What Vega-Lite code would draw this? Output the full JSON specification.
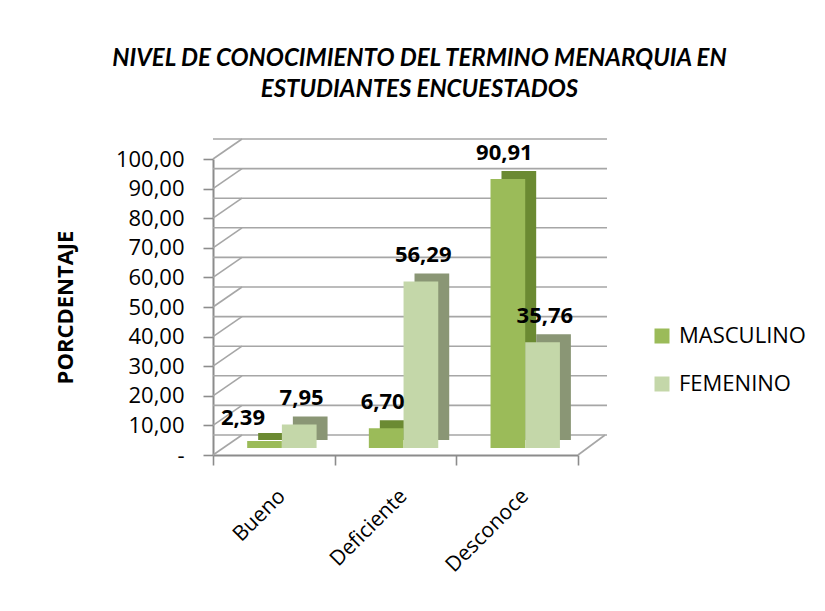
{
  "$schema": "https://vega.github.io/schema/vega-lite/v6.json",
  "autosize": "none",
  "width": 365,
  "height": 296,
  "padding": {"left": 213, "top": 159, "right": 247, "bottom": 156},
  "background": "white",
  "config": {
    "view": {"stroke": null},
    "locale": {"number": {"decimal": ",", "thousands": ".", "grouping": [3], "currency": ["", ""]}},
    "font": "Open Sans",
    "axisY": {"labelOverlap": false}
  },
  "title": {
    "text": ["NIVEL DE CONOCIMIENTO DEL TERMINO MENARQUIA EN", "ESTUDIANTES ENCUESTADOS"],
    "font": "Lato",
    "fontSize": 24,
    "fontWeight": "bold",
    "fontStyle": "italic",
    "color": "#000000",
    "anchor": "middle",
    "frame": "group",
    "dx": 24,
    "offset": 36,
    "lineHeight": 31
  },
  "resolve": {"scale": {"xOffset": "independent"}},
  "datasets": {
    "datos": [
      {"categoria": "Bueno", "sexo": "MASCULINO", "valor": 2.39},
      {"categoria": "Bueno", "sexo": "FEMENINO", "valor": 7.95},
      {"categoria": "Deficiente", "sexo": "MASCULINO", "valor": 6.70},
      {"categoria": "Deficiente", "sexo": "FEMENINO", "valor": 56.29},
      {"categoria": "Desconoce", "sexo": "MASCULINO", "valor": 90.91},
      {"categoria": "Desconoce", "sexo": "FEMENINO", "valor": 35.76}
    ],
    "marcas": [
      {"valor": 0}, {"valor": 10}, {"valor": 20}, {"valor": 30}, {"valor": 40}, {"valor": 50},
      {"valor": 60}, {"valor": 70}, {"valor": 80}, {"valor": 90}, {"valor": 100}
    ],
    "piso": [{"valor": 0}]
  },
  "encoding": {
    "y": {"field": "valor", "type": "quantitative", "scale": {"domain": [0, 100], "nice": false},
      "axis": {
        "values": [0, 10, 20, 30, 40, 50, 60, 70, 80, 90, 100],
        "format": ".2f",
        "labelExpr": "datum.value == 0 ? '-\u00a0\u00a0\u00a0' : datum.label",
        "labelOverlap": false,
        "labelFont": "Open Sans",
        "labelFontSize": 22,
        "labelColor": "#000000",
        "labelPadding": 19,
        "tickSize": 10,
        "tickColor": "#8c8c8c",
        "tickWidth": 1.6,
        "domainColor": "#8c8c8c",
        "domainWidth": 2,
        "grid": false,
        "title": "PORCDENTAJE",
        "titleFont": "Open Sans",
        "titleFontSize": 22,
        "titleFontWeight": "bold",
        "titleColor": "#000000",
        "titleX": -148,
        "titleY": 148,
        "titleAngle": -90,
        "titleAlign": "center",
        "titleBaseline": "middle"
      }
    }
  },
  "layer": [
    {
      "data": {"name": "marcas"},
      "mark": {"type": "rule", "color": "#a6a6a6", "strokeWidth": 1.6, "xOffset": 29, "x2Offset": 29, "yOffset": -20},
      "encoding": {}
    },
    {
      "data": {"name": "marcas"},
      "mark": {"type": "rule", "color": "#a6a6a6", "strokeWidth": 1.6, "y2Offset": -20},
      "encoding": {
        "y2": {"field": "valor"},
        "x": {"value": 0},
        "x2": {"value": 29}
      }
    },
    {
      "data": {"name": "piso"},
      "mark": {"type": "rule", "color": "#a6a6a6", "strokeWidth": 1.6, "y2Offset": -20},
      "encoding": {
        "y2": {"field": "valor"},
        "x": {"value": 365},
        "x2": {"value": 392}
      }
    },
    {
      "data": {"name": "datos"},
      "mark": {"type": "bar", "yOffset": -15, "y2Offset": -15},
      "encoding": {
        "x": {"field": "categoria", "type": "nominal", "sort": ["Bueno", "Deficiente", "Desconoce"],
          "scale": {"paddingInner": 0, "paddingOuter": 0},
          "axis": {
            "title": null,
            "labelAngle": -45,
            "labelFont": "Open Sans",
            "labelFontSize": 21,
            "labelColor": "#000000",
            "labelPadding": 20,
            "tickBand": "extent",
            "tickSize": 10,
            "tickColor": "#8c8c8c",
            "tickWidth": 1.6,
            "domainColor": "#8c8c8c",
            "domainWidth": 2,
            "grid": false
          }
        },
        "xOffset": {"field": "sexo", "type": "nominal", "sort": ["MASCULINO", "FEMENINO"],
          "scale": {"type": "band", "paddingInner": 0, "paddingOuter": 0.753, "align": 0.864}},
        "color": {
          "condition": {"test": "datum.sexo == 'MASCULINO'", "value": "#6b8a32"},
          "value": "#8a9675"
        }
      }
    },
    {
      "data": {"name": "datos"},
      "mark": {"type": "bar", "yOffset": -7, "y2Offset": -7},
      "encoding": {
        "x": {"field": "categoria", "type": "nominal", "sort": ["Bueno", "Deficiente", "Desconoce"]},
        "xOffset": {"field": "sexo", "type": "nominal", "sort": ["MASCULINO", "FEMENINO"],
          "scale": {"type": "band", "paddingInner": 0, "paddingOuter": 0.753, "align": 0.654}},
        "color": {
          "field": "sexo",
          "type": "nominal",
          "sort": ["MASCULINO", "FEMENINO"],
          "scale": {"domain": ["MASCULINO", "FEMENINO"], "range": ["#9bbb59", "#c4d7a9"]},
          "legend": {
            "title": null,
            "orient": "none",
            "legendX": 438,
            "legendY": 166,
            "symbolType": "square",
            "symbolSize": 225,
            "symbolStrokeWidth": 0,
            "labelFont": "Open Sans",
            "labelFontSize": 22,
            "labelColor": "#000000",
            "labelOffset": 6,
            "rowPadding": 26,
            "padding": 0
          }
        }
      }
    },
    {
      "data": {"name": "datos"},
      "mark": {"type": "text", "yOffset": -7, "baseline": "alphabetic", "font": "Open Sans", "fontSize": 22, "fontWeight": "bold", "color": "#000000",
        "dx": {"expr": "datum.categoria == 'Bueno' && datum.sexo == 'MASCULINO' ? -18 : 0"},
        "dy": {"expr": "datum.categoria == 'Bueno' && datum.sexo == 'MASCULINO' ? -16 : -19"}},
      "encoding": {
        "x": {"field": "categoria", "type": "nominal", "sort": ["Bueno", "Deficiente", "Desconoce"]},
        "xOffset": {"field": "sexo", "type": "nominal", "sort": ["MASCULINO", "FEMENINO"],
          "scale": {"type": "point", "padding": 1.253, "align": 0.592}},
        "text": {"field": "valor", "type": "quantitative", "format": ".2f"}
      }
    }
  ]
}
